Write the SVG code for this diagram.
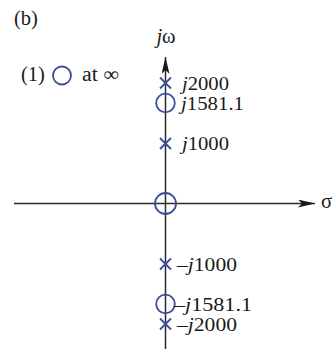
<svg xmlns="http://www.w3.org/2000/svg" width="336" height="349" viewBox="0 0 336 349">
<style>
.ax{stroke:#2b2b2b;stroke-width:1.5;fill:none}
.pole{stroke:#3b4c9a;stroke-width:1.8;fill:none}
.zero{stroke:#3b4c9a;stroke-width:1.8;fill:none}
text{fill:#1a1a1a}
.lbl{font-size:19px}
.big{font-size:20.5px}
.it{font-style:italic}
</style>
<defs>
<marker id="arr" markerWidth="18" markerHeight="8" refX="17" refY="4" orient="auto" markerUnits="userSpaceOnUse">
<path d="M0,0 L17,4 L0,8 L4,4 Z" fill="#1a1a1a"/>
</marker>
<g id="x"><path d="M-5.5,-5.5 L5.5,5.5 M-5.5,5.5 L5.5,-5.5"/></g>
</defs>
<g id="axes">
<line class="ax" x1="14" y1="203.5" x2="315" y2="203.5" marker-end="url(#arr)"/>
<line class="ax" x1="165.5" y1="349" x2="165.5" y2="57" marker-end="url(#arr)"/>
</g>
<g font-family="'Liberation Serif', 'Times New Roman', Times, serif">
<g id="title"><text class="big" x="14" y="25">(b)</text></g>
<g id="legend">
<text class="big" x="21" y="81">(1)</text>
<circle class="zero" cx="62" cy="75.5" r="9"/>
<text class="big" x="82" y="81" textLength="37" lengthAdjust="spacingAndGlyphs">at ∞</text>
</g>
<g id="axis-labels">
<text class="big" x="166" y="43" text-anchor="middle"><tspan class="it">j</tspan>ω</text>
<text class="big" x="321" y="208">σ</text>
</g>
<g id="p1"><use href="#x" class="pole" x="165.5" y="83"/><text class="lbl" x="182" y="89.5" textLength="47" lengthAdjust="spacingAndGlyphs"><tspan class="it">j</tspan>2000</text></g>
<g id="z1"><circle class="zero" cx="165.5" cy="103" r="9.3"/><text class="lbl" x="181" y="109.5" textLength="63" lengthAdjust="spacingAndGlyphs"><tspan class="it">j</tspan>1581.1</text></g>
<g id="p2"><use href="#x" class="pole" x="165.5" y="143.5"/><text class="lbl" x="182" y="150" textLength="47" lengthAdjust="spacingAndGlyphs"><tspan class="it">j</tspan>1000</text></g>
<g id="z0"><circle class="zero" cx="165.5" cy="203.5" r="10.5"/></g>
<g id="p3"><use href="#x" class="pole" x="165.5" y="264"/><text class="lbl" x="177" y="270.5" textLength="60" lengthAdjust="spacingAndGlyphs">–<tspan class="it">j</tspan>1000</text></g>
<g id="z2"><circle class="zero" cx="165.5" cy="304" r="9.3"/><text class="lbl" x="174" y="310.5" textLength="78" lengthAdjust="spacingAndGlyphs">–<tspan class="it">j</tspan>1581.1</text></g>
<g id="p4"><use href="#x" class="pole" x="165.5" y="324"/><text class="lbl" x="177" y="330.5" textLength="60" lengthAdjust="spacingAndGlyphs">–<tspan class="it">j</tspan>2000</text></g>
</g>
</svg>
